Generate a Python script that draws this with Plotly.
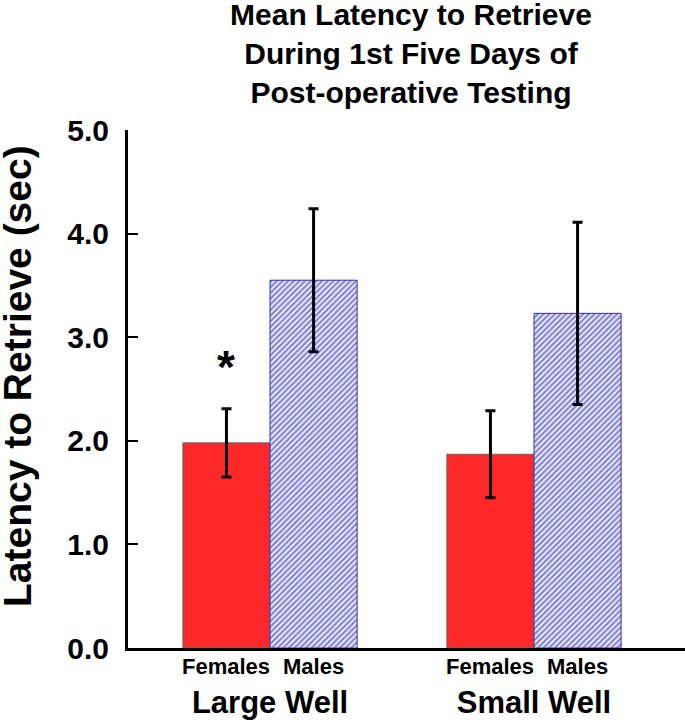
import plotly.graph_objects as go

wells = ["Large Well", "Small Well"]
sexes = ["Females", "Males"]
female_mean = [1.98, 1.87]
female_err = [0.33, 0.42]
male_mean = [3.55, 3.23]
male_err = [0.69, 0.88]
y_ticks = [0.0, 1.0, 2.0, 3.0, 4.0, 5.0]
title_lines = ["Mean Latency to Retrieve", "During 1st Five Days of", "Post-operative Testing"]
y_title = "Latency to Retrieve (sec)"

FONT = "Liberation Sans, Arial, sans-serif"
BARGAP = 0.34
W, H = 685, 725
ML, MR, MT, MB = 128, 0, 130, 77

fig = go.Figure()
fig.add_trace(go.Bar(
    x=wells, y=female_mean, name="Females",
    marker=dict(color="#FF2828", line=dict(color="#666666", width=1)),
    error_y=dict(type="data", array=female_err, color="black", thickness=3, width=5),
))
fig.add_trace(go.Bar(
    x=wells, y=male_mean, name="Males",
    marker=dict(color="white",
                pattern=dict(shape="/", fgcolor="#0808c8", bgcolor="white", size=4, solidity=0.6),
                line=dict(color="#3030b0", width=1)),
    error_y=dict(type="data", array=male_err, color="black", thickness=3, width=5),
))

half = (1 - BARGAP) / 4
annotations = []
for i, w in enumerate(wells):
    for j, s in enumerate(sexes):
        annotations.append(dict(
            x=i + (-half if j == 0 else half), y=0, xref="x", yref="y",
            text="<b>%s</b>" % s, showarrow=False, yanchor="top", yshift=-4,
            font=dict(family=FONT, size=22, color="black")))

# significance marker above Large Well females
annotations.append(dict(
    x=0 - half, y=female_mean[0] + female_err[0], xref="x", yref="y",
    text="<b>*</b>", showarrow=False, yanchor="bottom", yshift=14,
    font=dict(family=FONT, size=46, color="black")))

# y-axis title (rotated)
pw = W - ML - MR
ph = H - MT - MB
annotations.append(dict(
    x=(17 - ML) / pw, y=(H - MB - 376) / ph, xref="paper", yref="paper",
    text="<b>%s</b>" % y_title, textangle=-90, showarrow=False,
    xanchor="center", yanchor="middle",
    font=dict(family=FONT, size=39, color="black")))

fig.update_layout(
    width=W, height=H,
    margin=dict(l=ML, r=MR, t=MT, b=MB, autoexpand=False),
    paper_bgcolor="white", plot_bgcolor="white",
    barmode="group", bargap=BARGAP, bargroupgap=0,
    showlegend=False,
    title=dict(text="<b>" + "<br>".join(title_lines) + "</b>",
               x=(411 / W), xanchor="center", y=0.966, yanchor="top",
               font=dict(family=FONT, size=30, color="black")),
    annotations=annotations,
    xaxis=dict(range=[-0.538, 1.572], showline=True, linecolor="black", linewidth=3,
               ticks="", tickfont=dict(family=FONT, size=31, color="black"),
               ticklabelstandoff=25, showgrid=False, zeroline=False,
               tickvals=[0, 1], ticktext=["<b>%s</b>" % w for w in wells]),
    yaxis=dict(range=[0, 5], showline=True, linecolor="black", linewidth=3,
               ticks="inside", ticklen=10, tickwidth=2, tickcolor="black",
               tickvals=y_ticks, ticktext=["<b>%.1f</b>" % v for v in y_ticks],
               tickfont=dict(family=FONT, size=30, color="black"),
               ticklabelstandoff=10, showgrid=False, zeroline=False),
)

fig.write_html("out.html", config={"displayModeBar": False},
               post_script="document.body.style.margin='0';document.body.style.padding='0';")
